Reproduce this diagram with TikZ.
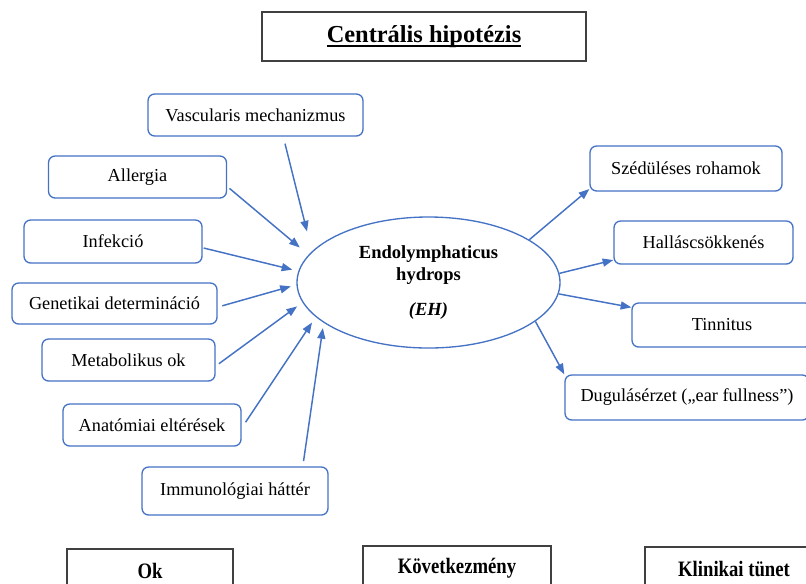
\documentclass[tikz,border=0pt]{standalone}
\usepackage{fontspec}
\setmainfont{Liberation Serif}
\newfontfamily\narrowserif[FakeStretch=0.85]{Liberation Serif}
\usepackage{tikz}
\usetikzlibrary{arrows.meta,shapes.geometric}
\definecolor{linkblue}{HTML}{4472C4}
\definecolor{framegray}{HTML}{404040}
\newcommand\heavyunderline[1]{\setbox0\hbox{#1}\rlap{\rule[-3.2pt]{\wd0}{1.4pt}}\box0}

\begin{document}
\begin{tikzpicture}[x=0.75pt,y=-0.75pt,
	cause/.style={draw=linkblue,line width=1pt,rounded corners=5pt,inner sep=0pt,font=\fontsize{13.7}{16}\selectfont},
	legend/.style={draw=framegray,line width=0.8pt,inner sep=0pt,minimum height=33pt,font=\narrowserif\bfseries\fontsize{16.5}{19}\selectfont}]
		\clip (0,0) rectangle (806,583);
		\node[draw=framegray,line width=1pt,inner sep=0pt,minimum width=243pt,minimum height=36.75pt,font=\bfseries\fontsize{18.3}{22}\selectfont] (title) at (424,36.5) {\heavyunderline{Centrális hipotézis}};
		%
		\node[ellipse,draw=linkblue,line width=1pt,minimum width=197.25pt,minimum height=98.25pt,inner sep=0pt,align=center,font=\bfseries\fontsize{13.9}{17}\selectfont] (eh) at (428.5,282.5) {Endolymphaticus\\hydrops\\[9pt]\textit{(EH)}};
		%
		\node[cause,minimum width=161.25pt,minimum height=31.5pt] (vasc) at (255.5,115) {Vascularis mechanizmus};
		\node[cause,minimum width=133.5pt,minimum height=31.5pt] (allerg) at (137.5,177) {Allergia};
		\node[cause,minimum width=133.5pt,minimum height=32.25pt] (infekc) at (113,241.5) {Infekció};
		\node[cause,minimum width=153.75pt,minimum height=30.75pt] (genet) at (114.5,303.5) {Genetikai determináció};
		\node[cause,minimum width=129.75pt,minimum height=31.5pt] (metab) at (128.5,360) {Metabolikus ok};
		\node[cause,minimum width=133.5pt,minimum height=31.5pt] (anat) at (152,425) {Anatómiai eltérések};
		\node[cause,minimum width=139.5pt,minimum height=36pt] (immun) at (235,491) {Immunológiai háttér};
		%
		\node[cause,minimum width=144pt,minimum height=33.75pt] (szed) at (686,168.5) {Szédüléses rohamok};
		\node[cause,minimum width=134.25pt,minimum height=32.25pt] (hallas) at (703.5,242.5) {Halláscsökkenés};
		\node[cause,minimum width=135pt,minimum height=33pt] (tinn) at (722,325) {Tinnitus};
		\node[cause,minimum width=183pt,minimum height=33.75pt] (dugul) at (687,397.5) {Dugulásérzet („ear fullness”)};
		%
		\node[legend,minimum width=124.5pt] (ok) at (150,571) {Ok};
		\node[legend,minimum width=141pt] (kovet) at (457,568) {Következmény};
		\node[legend,minimum width=133.5pt] (klin) at (734,569) {Klinikai tünet};
		%
		\path[->,>={Triangle[length=8pt,width=6pt]},color=linkblue,line width=1.1pt]
		(vasc.-38.2) edge[shorten <=5.4pt,shorten >=15.3pt] (eh.165.2)
		(allerg.-6) edge[shorten <=2.25pt,shorten >=8.5pt] (eh.167.4)
		(infekc.-4.9) edge[shorten <=0.75pt,shorten >=4.6pt] (eh.175.1)
		(genet.-2.1) edge[shorten <=3.6pt,shorten >=4.35pt] (eh.181.9)
		(metab.-4.8) edge[shorten <=3pt,shorten >=5pt] (eh.189.9)
		(anat.-2.7) edge[shorten <=5.3pt,shorten >=5pt] (eh.197.3)
		(immun.20) edge[shorten <=4pt,shorten >=4pt] (eh.201.4)
		(eh.23) edge (szed.192.5)
		(eh.4.8) edge (hallas.191.1)
		(eh.-5.1) edge (tinn.169.5)
		(eh.-20.1) edge (dugul.north west);
	\end{tikzpicture}
\end{document}
